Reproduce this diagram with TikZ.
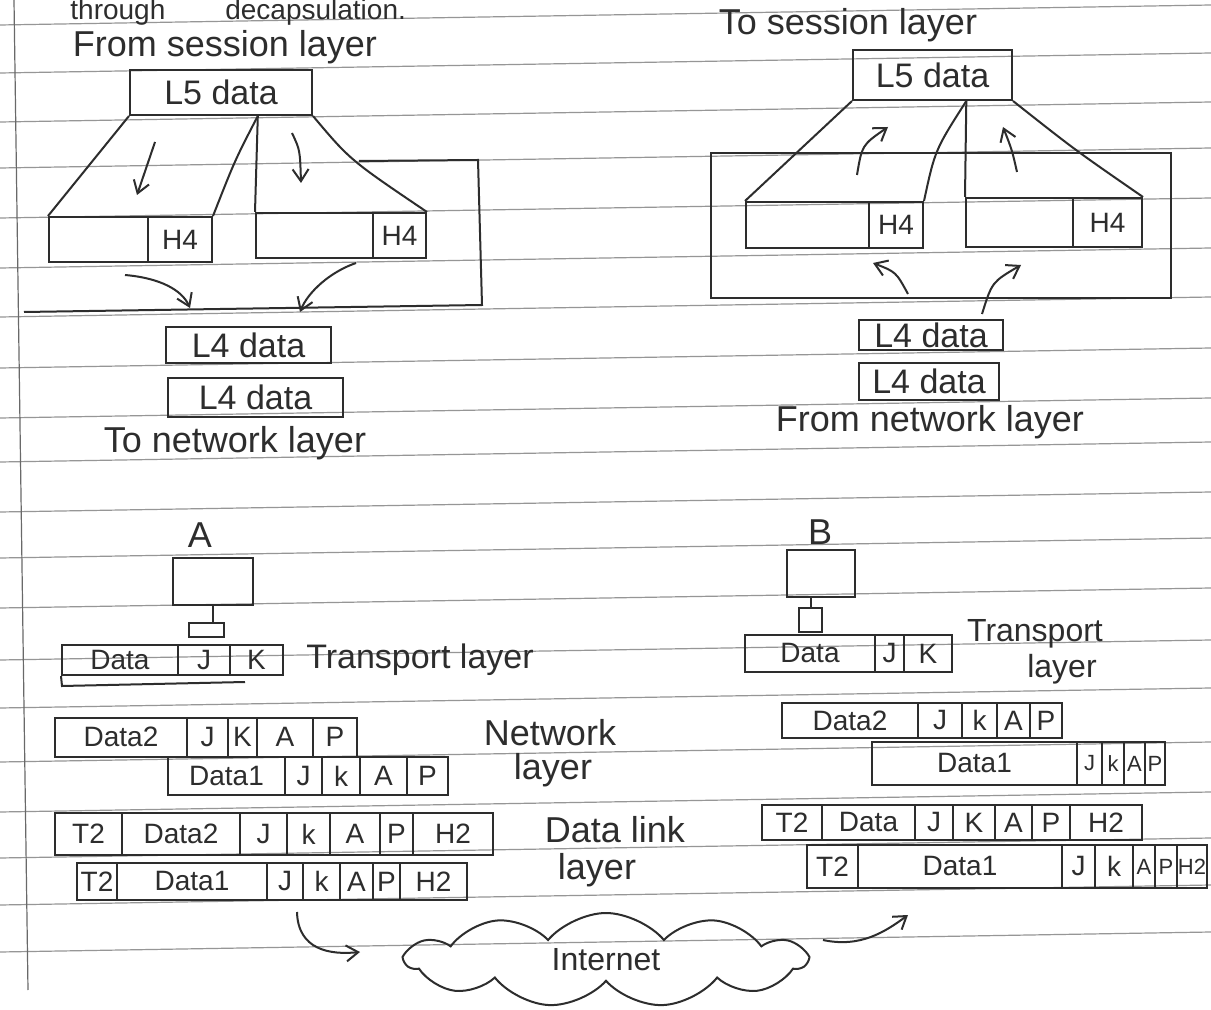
\documentclass[tikz,border=0pt]{standalone}
\usepackage{fontspec}
\setmainfont{Liberation Sans}
\usetikzlibrary{arrows.meta,shapes.symbols,calc}
\definecolor{ink}{RGB}{45,45,45}
\definecolor{rulecol}{RGB}{150,150,150}
\begin{document}
\begin{tikzpicture}[x=0.5pt,y=-0.5pt,
  every node/.style={text=ink},
  inkline/.style={draw=ink, line width=1pt},
  box/.style={draw=ink, line width=1pt, inner sep=0pt},
  cell/.style={box, font=\fontsize{14}{16}\selectfont},
  smallcell/.style={box, font=\fontsize{11}{13}\selectfont},
  lbl/.style={font=\fontsize{18}{20}\selectfont, inner sep=0pt},
  boxtext/.style={box, font=\fontsize{17}{19}\selectfont},
  arr/.style={inkline, -{Straight Barb[length=6pt,width=8pt]}},
  ruled/.style={draw=rulecol, line width=0.6pt}]
\useasboundingbox (0,0) rectangle (1211,1010);
\fill[white] (0,0) rectangle (1211,1010);
% notebook ruling
\foreach \yy in {20,68,117,163,213,263,312,363,413,457,507,553,603,655,703,757,807,853,900,947}
  \draw[ruled] (0,\yy+5) -- (1211,\yy-15);
\draw[ruled, draw=rulecol!70!black] (14,0) -- (28,990);

% ---------- top left: sender transport ----------
\node[lbl, font=\fontsize{14}{16}\selectfont, anchor=base west] (title) at (70,20) {through\hspace{30pt}decapsulation.};
\node[lbl] (fromsess) at (225,47) {From session layer};
\node[boxtext, minimum width=91pt, minimum height=22.5pt] (l5L) at (221,92.5) {L5 data};
\node[cell, minimum width=49.5pt, minimum height=22.5pt] (s1d) at (98.5,239.5) {};
\node[cell, minimum width=32pt, minimum height=22.5pt] (s1h) at (180,239.5) {H4};
\node[cell, minimum width=58.5pt, minimum height=22.5pt] (s2d) at (314.5,235.5) {};
\node[cell, minimum width=26.5pt, minimum height=22.5pt] (s2h) at (399.5,235.5) {H4};
\coordinate (l5Lm) at ($(l5L.south west)!0.7!(l5L.south east)$);
\draw[inkline] (l5L.south west) -- (s1d.north west);
\draw[inkline] (l5Lm) .. controls (235,160) .. (s1h.north east);
\draw[inkline] (l5Lm) -- (s2d.north west);
\draw[inkline] (l5L.south east) .. controls (350,160) .. (s2h.north east);
\coordinate (oL1) at (359,161);
\coordinate (oL2) at (478,160);
\coordinate (oL3) at (482,305);
\coordinate (oL4) at (24,312);
\draw[inkline] (oL1) -- (oL2) -- (oL3) -- (oL4);
\coordinate (dA1) at (155,142); \coordinate (dA2) at (137,195);
\draw[arr] (dA1) -- (dA2);
\coordinate (dB1) at (292,133); \coordinate (dB2) at (301,183);
\draw[arr] (dB1) .. controls (300,150) .. (dB2);
\coordinate (cA1) at (125,275); \coordinate (cA2) at (190,308);
\draw[arr] (cA1) .. controls (160,278) and (182,290) .. (cA2);
\coordinate (cB1) at (356,263); \coordinate (cB2) at (300,312);
\draw[arr] (cB1) .. controls (330,272) and (308,292) .. (cB2);
\node[boxtext, minimum width=82.5pt, minimum height=18pt] (l4a) at (248.5,345) {L4 data};
\node[boxtext, minimum width=87.5pt, minimum height=19.5pt] (l4b) at (255.5,397.5) {L4 data};
\node[lbl] (tonet) at (235,443) {To network layer};

% ---------- top right: receiver transport ----------
\node[lbl] (tosess) at (848,25) {To session layer};
\node[boxtext, minimum width=79.5pt, minimum height=25pt] (l5R) at (932.5,75) {L5 data};
\node[cell, minimum width=61.5pt, minimum height=23pt] (r1d) at (807.5,225) {};
\node[cell, minimum width=27pt, minimum height=23pt] (r1h) at (896,225) {H4};
\node[cell, minimum width=53.5pt, minimum height=24.5pt] (r2d) at (1019.5,222.5) {};
\node[cell, minimum width=34.5pt, minimum height=24.5pt] (r2h) at (1107.5,222.5) {H4};
\coordinate (l5Rm) at ($(l5R.south west)!0.71!(l5R.south east)$);
\draw[inkline] (l5R.south west) -- (r1d.north west);
\draw[inkline] (l5Rm) .. controls (935,150) .. (r1h.north east);
\draw[inkline] (l5Rm) -- (r2d.north west);
\draw[inkline] (l5R.south east) .. controls (1075,150) .. (r2h.north east);
\coordinate (oR1) at (711,153); \coordinate (oR2) at (1171,298);
\draw[inkline] (oR1) rectangle (oR2);
\coordinate (uA1) at (857,175); \coordinate (uA2) at (888,127);
\draw[arr] (uA1) .. controls (862,145) .. (uA2);
\coordinate (uB1) at (1017,172); \coordinate (uB2) at (1003,127);
\draw[arr] (uB1) .. controls (1012,150) .. (uB2);
\coordinate (vA1) at (908,294); \coordinate (vA2) at (873,263);
\draw[arr] (vA1) .. controls (896,272) .. (vA2);
\coordinate (vB1) at (982,314); \coordinate (vB2) at (1021,265);
\draw[arr] (vB1) .. controls (992,282) .. (vB2);
\node[boxtext, minimum width=72pt, minimum height=15pt] (l4Ra) at (931,335) {L4 data};
\node[boxtext, minimum width=70pt, minimum height=18.5pt] (l4Rb) at (929,381.5) {L4 data};
\node[lbl] (fromnet) at (930,422) {From network layer};

% ---------- host A ----------
\node[lbl] (labA) at (200,535) {A};
\node[box, minimum width=40pt, minimum height=23.5pt] (hostA) at (213,581.5) {};
\node[box, minimum width=17.5pt, minimum height=7pt] (smA) at (206,630) {};
\draw[inkline] (hostA.south) -- (hostA.south |- smA.north);
\node[cell, minimum width=58pt, minimum height=15pt] (taD) at (120,660) {Data};
\node[cell, minimum width=26pt, minimum height=15pt] (taJ) at (204,660) {J};
\node[cell, minimum width=26.5pt, minimum height=15pt] (taK) at (256.5,660) {K};
\coordinate (taX1) at (62,686); \coordinate (taX2) at (245,682);
\draw[inkline] (taD.south west) -- (taX1) -- (taX2);
\node[lbl, font=\fontsize{17}{19}\selectfont] (trA) at (420,660) {Transport layer};

% ---------- host B ----------
\node[lbl] (labB) at (820,532) {B};
\node[box, minimum width=34pt, minimum height=23.5pt] (hostB) at (821,573.5) {};
\node[box, minimum width=11.5pt, minimum height=12pt] (smB) at (810.5,620) {};
\draw[inkline] (smB.north |- hostB.south) -- (smB.north);
\node[cell, minimum width=65pt, minimum height=18.5pt] (tbD) at (810,653.5) {Data};
\node[cell, minimum width=14.5pt, minimum height=18.5pt] (tbJ) at (889.5,653.5) {J};
\node[cell, minimum width=24pt, minimum height=18.5pt] (tbK) at (928,653.5) {K};
\node[lbl, font=\fontsize{16}{18}\selectfont] (trB1) at (1035,634) {Transport};
\node[lbl, font=\fontsize{16}{18}\selectfont] (trB2) at (1062,669) {layer};

% ---------- network layer A ----------
\node[cell, minimum width=66pt, minimum height=19.5pt] (nL1a) at (121,737) {Data2};
\node[cell, minimum width=20.5pt, minimum height=19.5pt] (nL1b) at (207.5,737) {J};
\node[cell, minimum width=14.5pt, minimum height=19.5pt] (nL1c) at (242.5,737) {K};
\node[cell, minimum width=28pt, minimum height=19.5pt] (nL1d) at (285,737) {A};
\node[cell, minimum width=22pt, minimum height=19.5pt] (nL1e) at (335,737) {P};
\node[cell, minimum width=58.5pt, minimum height=19pt] (nL2a) at (226.5,776) {Data1};
\node[cell, minimum width=18.5pt, minimum height=19pt] (nL2b) at (303.5,776) {J};
\node[cell, minimum width=19pt, minimum height=19pt] (nL2c) at (341,776) {k};
\node[cell, minimum width=23.5pt, minimum height=19pt] (nL2d) at (383.5,776) {A};
\node[cell, minimum width=20.5pt, minimum height=19pt] (nL2e) at (427.5,776) {P};
\node[lbl] (netL1) at (550,733) {Network};
\node[lbl] (netL2) at (553,770) {layer};

% ---------- network layer B ----------
\node[cell, minimum width=68pt, minimum height=17.5pt] (nR1a) at (850,720.5) {Data2};
\node[cell, minimum width=22pt, minimum height=17.5pt] (nR1b) at (940,720.5) {J};
\node[cell, minimum width=17.5pt, minimum height=17.5pt] (nR1c) at (979.5,720.5) {k};
\node[cell, minimum width=16.5pt, minimum height=17.5pt] (nR1d) at (1013.5,720.5) {A};
\node[cell, minimum width=16pt, minimum height=17.5pt] (nR1e) at (1046,720.5) {P};
\node[cell, minimum width=102.5pt, minimum height=21.5pt] (nR2a) at (974.5,763.5) {Data1};
\node[smallcell, minimum width=12.5pt, minimum height=21.5pt] (nR2b) at (1089.5,763.5) {J};
\node[smallcell, minimum width=11pt, minimum height=21.5pt] (nR2c) at (1113,763.5) {k};
\node[smallcell, minimum width=10.5pt, minimum height=21.5pt] (nR2d) at (1134.5,763.5) {A};
\node[smallcell, minimum width=10pt, minimum height=21.5pt] (nR2e) at (1155,763.5) {P};

% ---------- data link layer A ----------
\node[cell, minimum width=33.5pt, minimum height=21pt] (dL1a) at (88.5,834) {T2};
\node[cell, minimum width=59pt, minimum height=21pt] (dL1b) at (181,834) {Data2};
\node[cell, minimum width=23.5pt, minimum height=21pt] (dL1c) at (263.5,834) {J};
\node[cell, minimum width=21.5pt, minimum height=21pt] (dL1d) at (308.5,834) {k};
\node[cell, minimum width=25pt, minimum height=21pt] (dL1e) at (355,834) {A};
\node[cell, minimum width=16.5pt, minimum height=21pt] (dL1f) at (396.5,834) {P};
\node[cell, minimum width=40pt, minimum height=21pt] (dL1g) at (453,834) {H2};
\node[cell, minimum width=20pt, minimum height=18.5pt] (dL2a) at (97,881.5) {T2};
\node[cell, minimum width=75pt, minimum height=18.5pt] (dL2b) at (192,881.5) {Data1};
\node[cell, minimum width=18pt, minimum height=18.5pt] (dL2c) at (285,881.5) {J};
\node[cell, minimum width=18.5pt, minimum height=18.5pt] (dL2d) at (321.5,881.5) {k};
\node[cell, minimum width=16.5pt, minimum height=18.5pt] (dL2e) at (356.5,881.5) {A};
\node[cell, minimum width=13.5pt, minimum height=18.5pt] (dL2f) at (386.5,881.5) {P};
\node[cell, minimum width=33.5pt, minimum height=18.5pt] (dL2g) at (433.5,881.5) {H2};
\node[lbl] (dlL1) at (615,830) {Data link};
\node[lbl] (dlL2) at (597,870) {layer};

% ---------- data link layer B ----------
\node[cell, minimum width=30pt, minimum height=17.5pt] (dR1a) at (792,822.5) {T2};
\node[cell, minimum width=46.5pt, minimum height=17.5pt] (dR1b) at (868.5,822.5) {Data};
\node[cell, minimum width=19pt, minimum height=17.5pt] (dR1c) at (934,822.5) {J};
\node[cell, minimum width=21pt, minimum height=17.5pt] (dR1d) at (974,822.5) {K};
\node[cell, minimum width=18.5pt, minimum height=17.5pt] (dR1e) at (1013.5,822.5) {A};
\node[cell, minimum width=19pt, minimum height=17.5pt] (dR1f) at (1051,822.5) {P};
\node[cell, minimum width=36pt, minimum height=17.5pt] (dR1g) at (1106,822.5) {H2};
\node[cell, minimum width=25.5pt, minimum height=21.5pt] (dR2a) at (832.5,866.5) {T2};
\node[cell, minimum width=102pt, minimum height=21.5pt] (dR2b) at (960,866.5) {Data1};
\node[cell, minimum width=16.5pt, minimum height=21.5pt] (dR2c) at (1078.5,866.5) {J};
\node[cell, minimum width=19pt, minimum height=21.5pt] (dR2d) at (1114,866.5) {k};
\node[smallcell, minimum width=11pt, minimum height=21.5pt] (dR2e) at (1144,866.5) {A};
\node[smallcell, minimum width=11pt, minimum height=21.5pt] (dR2f) at (1166,866.5) {P};
\node[smallcell, minimum width=15pt, minimum height=21.5pt] (dR2g) at (1192,866.5) {H2};

% ---------- internet ----------
\node[cloud, draw=ink, line width=1pt, cloud puffs=11, cloud puff arc=100, aspect=4.2,
      minimum width=200pt, minimum height=47pt, inner sep=0pt,
      font=\fontsize{16}{18}\selectfont] (internet) at (606,960) {Internet};
\coordinate (iA1) at (297,912); \coordinate (iA2) at (360,952);
\draw[arr] (iA1) .. controls (298,950) and (330,955) .. (iA2);
\coordinate (iB1) at (823,940); \coordinate (iB2) at (908,915);
\draw[arr] (iB1) .. controls (860,948) and (885,932) .. (iB2);
\end{tikzpicture}
\end{document}
